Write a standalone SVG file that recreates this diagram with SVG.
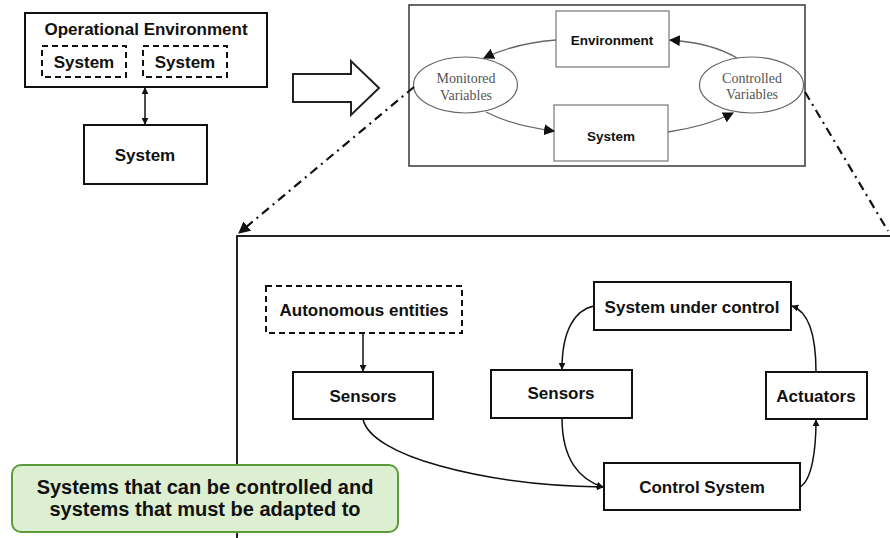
<svg xmlns="http://www.w3.org/2000/svg" width="890" height="538" viewBox="0 0 890 538">
<style>
.b{font-family:"Liberation Sans",Arial,sans-serif;font-weight:bold;fill:#111;text-anchor:middle}
.s{font-family:"Liberation Serif","Times New Roman",serif;fill:#555;text-anchor:middle;font-size:14px}
.box{fill:#fff;stroke:#111;stroke-width:2}
.dash{fill:#fff;stroke:#111;stroke-width:2;stroke-dasharray:6,4}
.gbox{fill:#fff;stroke:#777;stroke-width:1.2}
.c{fill:none;stroke:#111;stroke-width:1.5}
.cg{fill:none;stroke:#666;stroke-width:1.3}
.dd{fill:none;stroke:#111;stroke-width:2.2;stroke-dasharray:9,5,2,5}
</style>
<defs>
<marker id="ah" viewBox="0 0 10 10" refX="9" refY="5" markerWidth="7" markerHeight="7" markerUnits="userSpaceOnUse" orient="auto-start-reverse"><path d="M0,0L10,5L0,10z" fill="#111"/></marker>
<marker id="ahg" viewBox="0 0 10 10" refX="9" refY="5" markerWidth="11" markerHeight="11" markerUnits="userSpaceOnUse" orient="auto"><path d="M0,0L10,5L0,10z" fill="#111"/></marker>
<marker id="ahd" viewBox="0 0 10 10" refX="9" refY="5" markerWidth="12" markerHeight="12" markerUnits="userSpaceOnUse" orient="auto"><path d="M0,0L10,5L0,10z" fill="#111"/></marker>
</defs>

<!-- left top diagram -->
<g id="opEnv">
<rect class="box" x="25" y="13" width="242" height="74"/>
<text class="b" x="146" y="35" font-size="17">Operational Environment</text>
</g>
<g id="sys1"><rect class="dash" x="42" y="46" width="84" height="31"/><text class="b" x="84" y="68" font-size="17">System</text></g>
<g id="sys2"><rect class="dash" x="143" y="46" width="84" height="31"/><text class="b" x="185" y="68" font-size="17">System</text></g>
<g id="sysBottom"><rect class="box" x="84" y="125" width="123" height="59"/><text class="b" x="145" y="161" font-size="17">System</text></g>

<g id="bigArrow"><polygon points="293,74 351,74 351,61 379,88 351,115 351,102 293,102" fill="#fff" stroke="#222" stroke-width="2"/></g>

<!-- top right diagram -->
<g id="topFrame"><rect x="409" y="5" width="396" height="161" fill="#fff" stroke="#444" stroke-width="1.6"/></g>
<g id="envBox"><rect class="gbox" x="556" y="11" width="113" height="56"/><text class="b" x="612" y="45" font-size="13.5">Environment</text></g>
<g id="sysBox"><rect class="gbox" x="554" y="105" width="114" height="56"/><text class="b" x="611" y="141" font-size="13.5">System</text></g>
<g id="monVar"><ellipse cx="465.5" cy="85" rx="52" ry="28" fill="#fff" stroke="#666" stroke-width="1.2"/><text class="s" x="466" y="83">Monitored</text><text class="s" x="466" y="100">Variables</text></g>
<g id="ctrlVar"><ellipse cx="751.5" cy="85" rx="52" ry="28" fill="#fff" stroke="#666" stroke-width="1.2"/><text class="s" x="752" y="83">Controlled</text><text class="s" x="752" y="99">Variables</text></g>

<!-- bottom frame -->
<g id="bottomFrame"><path d="M237,538V236H890" fill="none" stroke="#222" stroke-width="2"/></g>

<g id="autonomous"><rect class="dash" x="266" y="286" width="196" height="47"/><text class="b" x="364" y="316" font-size="17">Autonomous entities</text></g>
<g id="sensorsL"><rect class="box" x="293" y="372" width="140" height="47"/><text class="b" x="363" y="402" font-size="17">Sensors</text></g>
<g id="sensorsM"><rect class="box" x="491" y="370" width="141" height="48"/><text class="b" x="561" y="399" font-size="17">Sensors</text></g>
<g id="suc"><rect class="box" x="594" y="282" width="197" height="48"/><text class="b" x="692" y="313" font-size="17">System under control</text></g>
<g id="actuators"><rect class="box" x="766" y="372" width="101" height="47"/><text class="b" x="816" y="402" font-size="17">Actuators</text></g>
<g id="controlSys"><rect class="box" x="604" y="463" width="196" height="47"/><text class="b" x="702" y="493" font-size="17">Control System</text></g>

<g id="connectors">
<line class="c" x1="145" y1="88" x2="145" y2="124" marker-start="url(#ah)" marker-end="url(#ah)"/>
<path class="cg" d="M556,40C530,42 505,48 484,58" marker-end="url(#ahg)"/>
<path class="cg" d="M486,112C505,122 530,128 554,131" marker-end="url(#ahg)"/>
<path class="cg" d="M668,132C695,128 715,122 733,113" marker-end="url(#ahg)"/>
<path class="cg" d="M737,58C720,48 700,42 670,40" marker-end="url(#ahg)"/>
<path class="dd" d="M414,87L239,233" marker-end="url(#ahd)"/>
<path class="dd" d="M805,92L888,231"/>
<line class="c" x1="363" y1="333" x2="363" y2="371" marker-end="url(#ah)"/>
<path class="c" d="M594,306C575,310 562,330 562,369" marker-end="url(#ah)"/>
<path class="c" d="M816,372C816,340 810,312 792,306" marker-end="url(#ah)"/>
<path class="c" d="M800,487C812,480 816,450 816,420" marker-end="url(#ah)"/>
<path class="c" d="M562,418C562,460 580,480 603,487" marker-end="url(#ah)"/>
<path class="c" d="M363,419C370,455 480,485 603,487" marker-end="url(#ah)"/>
</g>

<g id="callout">
<rect x="12" y="465" width="386" height="67" rx="9" fill="#dcefd0" stroke="#5c9a3c" stroke-width="2"/>
<text class="b" x="205" y="494" font-size="20">Systems that can be controlled and</text>
<text class="b" x="205" y="516" font-size="20">systems that must be adapted to</text>
</g>
</svg>
